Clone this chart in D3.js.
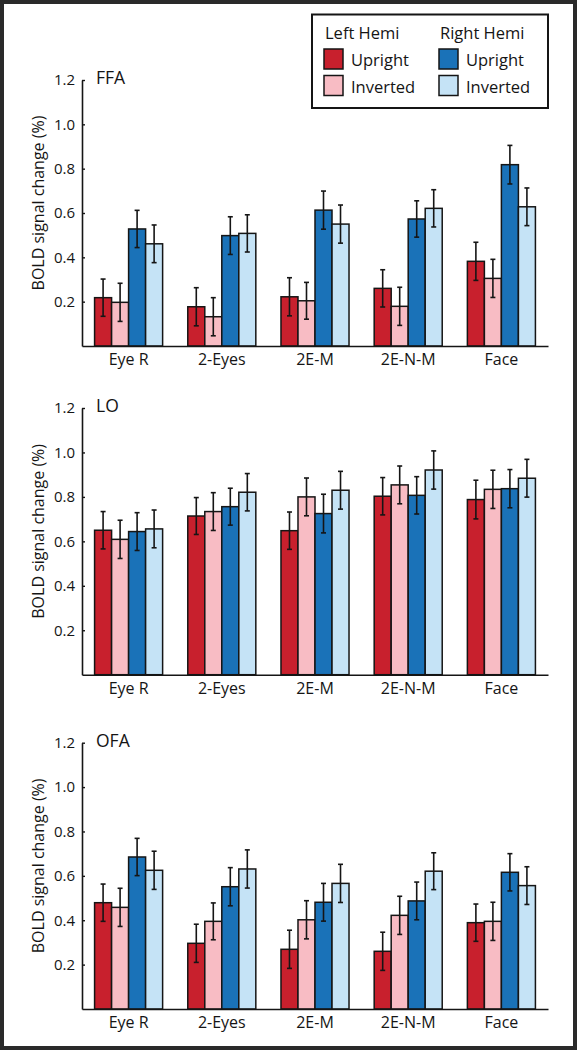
<!DOCTYPE html>
<html><head><meta charset="utf-8">
<script src="https://cdn.jsdelivr.net/npm/d3@7"></script>
<style>
html,body{margin:0;padding:0;background:#fff;}
svg{display:block;font-family:"Open Sans",sans-serif;}
</style></head>
<body><svg id="c" width="577" height="1050"></svg>
<script>
const categories = ["Eye R", "2-Eyes", "2E-M", "2E-N-M", "Face"];
const regions = ["FFA", "LO", "OFA"];
const seriesNames = ["Left Upright", "Left Inverted", "Right Upright", "Right Inverted"];
const seriesColors = ["#c8202d", "#f8bcc4", "#1a72b8", "#c5e3f6"];
const yTicks = [0.2, 0.4, 0.6, 0.8, 1.0, 1.2];

// FFA
const ffaLeftUpright   = [0.218, 0.177, 0.222, 0.260, 0.382];
const ffaLeftInverted  = [0.197, 0.132, 0.204, 0.179, 0.305];
const ffaRightUpright  = [0.528, 0.498, 0.613, 0.573, 0.818];
const ffaRightInverted = [0.461, 0.508, 0.550, 0.621, 0.628];
const ffaErrLU = [0.084, 0.086, 0.086, 0.084, 0.086];
const ffaErrLI = [0.086, 0.086, 0.083, 0.086, 0.086];
const ffaErrRU = [0.084, 0.085, 0.086, 0.082, 0.087];
const ffaErrRI = [0.085, 0.084, 0.086, 0.084, 0.085];
// LO
const loLeftUpright   = [0.650, 0.714, 0.648, 0.803, 0.788];
const loLeftInverted  = [0.609, 0.734, 0.800, 0.854, 0.834];
const loRightUpright  = [0.644, 0.756, 0.725, 0.807, 0.837];
const loRightInverted = [0.656, 0.821, 0.830, 0.921, 0.884];
const loErrLU = [0.084, 0.083, 0.084, 0.084, 0.087];
const loErrLI = [0.086, 0.085, 0.085, 0.085, 0.086];
const loErrRU = [0.085, 0.083, 0.087, 0.084, 0.086];
const loErrRI = [0.085, 0.084, 0.085, 0.086, 0.085];
// OFA
const ofaLeftUpright   = [0.479, 0.296, 0.269, 0.260, 0.389];
const ofaLeftInverted  = [0.458, 0.395, 0.402, 0.422, 0.395];
const ofaRightUpright  = [0.685, 0.551, 0.481, 0.487, 0.616];
const ofaRightInverted = [0.625, 0.631, 0.566, 0.621, 0.556];
const ofaErrLU = [0.084, 0.086, 0.086, 0.086, 0.084];
const ofaErrLI = [0.086, 0.083, 0.086, 0.086, 0.086];
const ofaErrRU = [0.084, 0.086, 0.085, 0.085, 0.084];
const ofaErrRI = [0.086, 0.086, 0.086, 0.083, 0.085];

const panelValues = [
  [ffaLeftUpright, ffaLeftInverted, ffaRightUpright, ffaRightInverted],
  [loLeftUpright, loLeftInverted, loRightUpright, loRightInverted],
  [ofaLeftUpright, ofaLeftInverted, ofaRightUpright, ofaRightInverted]
];
const panelErrors = [
  [ffaErrLU, ffaErrLI, ffaErrRU, ffaErrRI],
  [loErrLU, loErrLI, loErrRU, loErrRI],
  [ofaErrLU, ofaErrLI, ofaErrRU, ofaErrRI]
];

const svg = d3.select("#c");
const W = 577, H = 1050;
// frame
svg.append("rect").attr("x", 2).attr("y", 2).attr("width", W - 4).attr("height", H - 4)
  .attr("fill", "#fff").attr("stroke", "#2a2a2a").attr("stroke-width", 4);

const xLeft = 82, xRight = 548;
const panelTops = [80, 408, 742.7];
const panelBottoms = [346, 674.7, 1009];

const x0 = d3.scaleBand().domain(categories).range([xLeft, xRight]).paddingInner(0.27).paddingOuter(0.135);
const x1 = d3.scaleBand().domain(d3.range(4)).range([0, x0.bandwidth()]);
const ink = "#151515";

regions.forEach((reg, p) => {
  const y = d3.scaleLinear().domain([0, 1.2]).range([panelBottoms[p], panelTops[p]]);
  const g = svg.append("g");

  // bars
  panelValues[p].forEach((vals, s) => {
    const errs = panelErrors[p][s];
    const sg = g.append("g");
    sg.selectAll("rect").data(vals).join("rect")
      .attr("x", (d, i) => x0(categories[i]) + x1(s))
      .attr("y", d => y(d))
      .attr("width", x1.bandwidth())
      .attr("height", d => y(0) - y(d))
      .attr("fill", seriesColors[s])
      .attr("stroke", ink).attr("stroke-width", 1.5);
    const eg = sg.selectAll("g.err").data(vals).join("g").attr("class", "err");
    eg.append("line")
      .attr("x1", (d, i) => x0(categories[i]) + x1(s) + x1.bandwidth() / 2)
      .attr("x2", (d, i) => x0(categories[i]) + x1(s) + x1.bandwidth() / 2)
      .attr("y1", (d, i) => y(d - errs[i]))
      .attr("y2", (d, i) => y(d + errs[i]))
      .attr("stroke", ink).attr("stroke-width", 1.6);
    [1, -1].forEach(sign => {
      eg.append("line")
        .attr("x1", (d, i) => x0(categories[i]) + x1(s) + x1.bandwidth() / 2 - 2.5)
        .attr("x2", (d, i) => x0(categories[i]) + x1(s) + x1.bandwidth() / 2 + 2.5)
        .attr("y1", (d, i) => y(d + sign * errs[i]))
        .attr("y2", (d, i) => y(d + sign * errs[i]))
        .attr("stroke", ink).attr("stroke-width", 1.6);
    });
  });

  // y axis (ticks point inward)
  const ya = g.append("g").attr("transform", `translate(${xLeft},0)`)
    .call(d3.axisLeft(y).tickValues(yTicks).tickFormat(d3.format(".1f")).tickSize(-3).tickSizeOuter(0).tickPadding(7));
  ya.select(".domain").attr("stroke", ink).attr("stroke-width", 1.6);
  ya.selectAll(".tick line").attr("stroke", ink).attr("stroke-width", 1.4);
  ya.selectAll(".tick text").attr("font-size", 15).attr("fill", ink).attr("font-family", "Open Sans");

  // x axis
  const xa = g.append("g").attr("transform", `translate(0,${panelBottoms[p]})`)
    .call(d3.axisBottom(x0).tickSize(0).tickPadding(8));
  xa.select(".domain").attr("stroke", ink).attr("stroke-width", 1.6);
  xa.selectAll(".tick text").attr("font-size", 16).attr("fill", ink).attr("font-family", "Open Sans");

  // title
  g.append("text").attr("x", 96).attr("y", panelTops[p] + 4)
    .attr("font-size", 17.5).attr("fill", ink).text(reg);

  // y label
  g.append("text")
    .attr("transform", `translate(${44},${(panelTops[p] + panelBottoms[p]) / 2 - 10}) rotate(-90)`)
    .attr("text-anchor", "middle").attr("font-size", 16).attr("fill", ink)
    .text("BOLD signal change (%)");
});

// legend
const lg = svg.append("g");
lg.append("rect").attr("x", 312).attr("y", 14.5).attr("width", 236).attr("height", 93.5)
  .attr("fill", "#fff").attr("stroke", ink).attr("stroke-width", 2);
const hemis = ["Left Hemi", "Right Hemi"];
const legendLabels = ["Upright", "Inverted"];
hemis.forEach((h, hi) => {
  const lx = hi === 0 ? 324 : 439;
  lg.append("text").attr("x", lx + 1).attr("y", 38.5).attr("font-size", 16.5).attr("fill", ink).text(h);
  legendLabels.forEach((lab, li) => {
    const s = hi * 2 + li;
    lg.append("rect").attr("x", lx).attr("y", 49 + li * 26.5).attr("width", 19).attr("height", 20)
      .attr("fill", seriesColors[s]).attr("stroke", ink).attr("stroke-width", 1.5);
    lg.append("text").attr("x", lx + 27).attr("y", 66 + li * 26.5).attr("font-size", 16.5).attr("fill", ink).text(lab);
  });
});
</script></body></html>
